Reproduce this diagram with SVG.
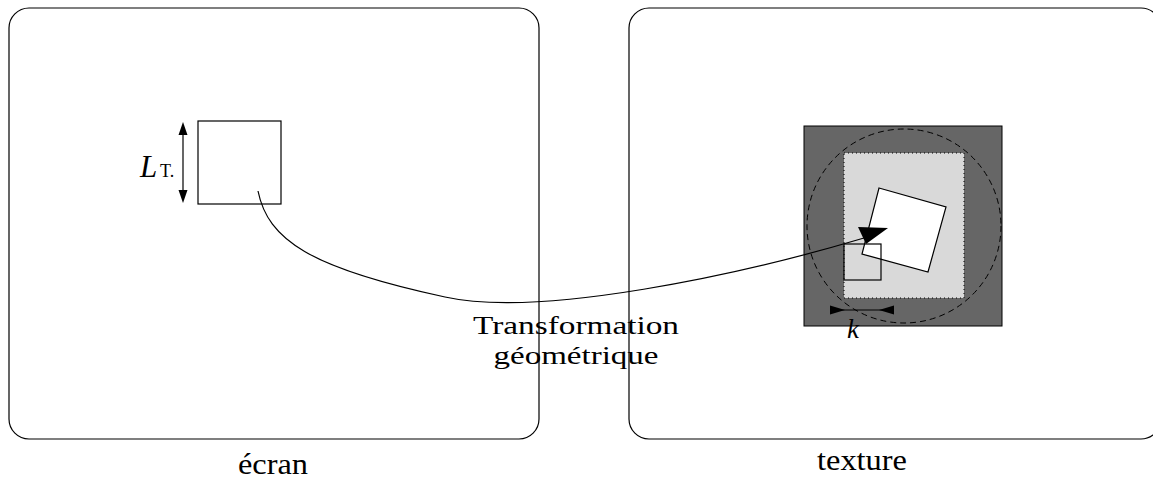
<svg xmlns="http://www.w3.org/2000/svg" width="1153" height="480" viewBox="0 0 1153 480">
<style>
.frame{fill:none;stroke:#000;stroke-width:1.2}
.ln{fill:none;stroke:#000;stroke-width:1.2}
.txt{font-family:"Liberation Serif","DejaVu Serif",serif;fill:#000}
</style>
<rect width="1153" height="480" fill="#fff"/>
<g id="ecran">
<rect class="frame" x="9" y="8" width="530" height="431" rx="20" ry="20"/>
<text class="txt" x="273" y="474" font-size="29" text-anchor="middle" textLength="70" lengthAdjust="spacingAndGlyphs">écran</text>
</g>
<g id="texture">
<rect class="frame" x="629" y="8" width="532" height="431" rx="20" ry="20"/>
<text class="txt" x="862" y="470" font-size="29" text-anchor="middle" textLength="90" lengthAdjust="spacingAndGlyphs">texture</text>
</g>
<g id="screen-tile">
<rect x="198" y="121" width="83" height="83" fill="#fff" stroke="#000" stroke-width="1.2"/>
<line class="ln" x1="183" y1="132" x2="183" y2="193"/>
<polygon points="183,122 178.5,135 187.5,135" fill="#000"/>
<polygon points="183,203 178.5,190 187.5,190" fill="#000"/>
<text class="txt" x="140" y="177" font-size="31" font-style="italic">L</text>
<text class="txt" x="160" y="177" font-size="18">T.</text>
</g>
<g id="texture-map">
<rect x="804" y="126" width="198" height="200" fill="#666" stroke="#000" stroke-width="1"/>
<rect x="844" y="153" width="120" height="145" fill="#d9d9d9" stroke="#000" stroke-width="1" stroke-dasharray="1,3"/>
<circle cx="904" cy="226" r="97" fill="none" stroke="#000" stroke-width="1" stroke-dasharray="6,4"/>
<polygon points="879,188 946,207 928,272 862,254" fill="#fff" stroke="#000" stroke-width="1.2"/>
<rect x="844" y="244" width="37" height="36" fill="none" stroke="#000" stroke-width="1.2"/>
<line class="ln" x1="840" y1="310" x2="884" y2="310"/>
<polygon points="830,305.5 830,314.5 845,310" fill="#000"/>
<polygon points="894,305.5 894,314.5 879,310" fill="#000"/>
<text class="txt" x="847" y="338" font-size="27" font-style="italic">k</text>
</g>
<g id="connectors">
<path class="ln" d="M258,191 C268,240 310,268 445,297 C540,318 740,275 864,238"/>
<polygon points="888,228 858,227 866,244" fill="#000"/>
</g>
<g id="label">
<text class="txt" x="576" y="334" font-size="26" text-anchor="middle" textLength="206" lengthAdjust="spacingAndGlyphs">Transformation</text>
<text class="txt" x="576" y="364" font-size="26" text-anchor="middle" textLength="165" lengthAdjust="spacingAndGlyphs">géométrique</text>
</g>
</svg>
